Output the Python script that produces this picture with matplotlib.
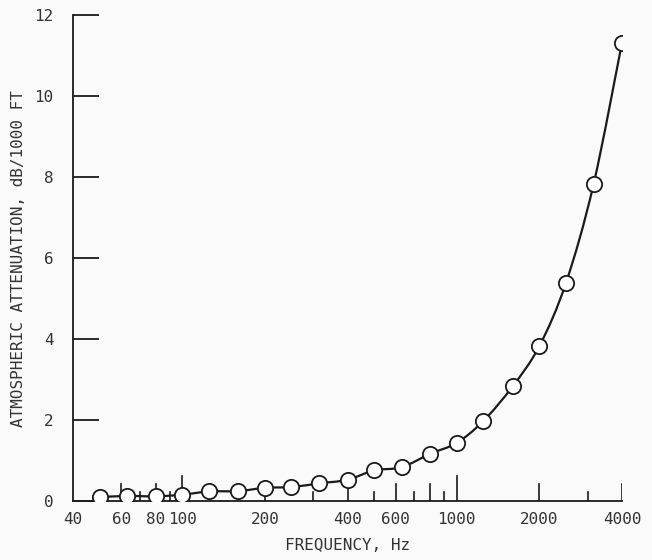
import matplotlib
matplotlib.use("Agg")
import matplotlib.pyplot as plt
from matplotlib.path import Path
from matplotlib.patches import PathPatch
import numpy as np

# data
freq = [50, 63, 80, 100, 125, 160, 200, 250, 315, 400, 500, 630, 800,
        1000, 1250, 1600, 2000, 2500, 3150, 4000]
atten = [0.10, 0.13, 0.12, 0.16, 0.24, 0.25, 0.33, 0.35, 0.44, 0.53, 0.76,
         0.84, 1.17, 1.44, 1.98, 2.84, 3.83, 5.39, 7.82, 11.32]
xtick_vals = [40, 60, 80, 100, 200, 400, 600, 1000, 2000, 4000]
xtick_labels = ["40", "60", "80", "100", "200", "400", "600", "1000", "2000", "4000"]
ytick_vals = [0, 2, 4, 6, 8, 10, 12]
long_ticks = [100, 1000]
mid_ticks = [60, 80, 200, 400, 600, 800, 2000, 4000]
short_ticks = [50, 70, 90, 300, 500, 700, 900, 3000]

plt.rcParams['font.family'] = ['DejaVu Sans Mono']
bg = '#fafafa'
ink = '#1a1a1a'
fig = plt.figure(figsize=(6.52, 5.6), dpi=100, facecolor=bg)
ax = fig.add_axes([0.112, 0.105, 0.842, 0.868], facecolor=bg)

ax.set_xscale('log')
ax.set_xlim(40, 4000)
ax.set_ylim(0, 12)

# smooth curve through the points (Catmull-Rom as cubic Bezier in log-x space)
lx = np.log10(freq)
ly = np.array(atten, dtype=float)
P = np.column_stack([lx, ly])
Pe = np.vstack([P[0], P, P[-1]])
verts = [P[0]]
codes = [Path.MOVETO]
for i in range(len(P) - 1):
    p0, p1, p2, p3 = Pe[i], Pe[i + 1], Pe[i + 2], Pe[i + 3]
    c1 = p1 + (p2 - p0) / 6.0
    c2 = p2 - (p3 - p1) / 6.0
    verts += [c1, c2, p2]
    codes += [Path.CURVE4] * 3
verts = np.array(verts)
verts[:, 0] = 10 ** verts[:, 0]
curve = PathPatch(Path(verts, codes), facecolor='none', edgecolor=ink,
                  lw=1.6, zorder=3)
ax.add_patch(curve)

ax.plot(freq, atten, linestyle='none', marker='o', markersize=11,
        markerfacecolor='white', markeredgecolor=ink,
        markeredgewidth=1.3, zorder=4)

for sp in ['top', 'right']:
    ax.spines[sp].set_visible(False)
for sp in ['left', 'bottom']:
    ax.spines[sp].set_linewidth(1.3)
    ax.spines[sp].set_color(ink)

ax.set_xticks(xtick_vals)
ax.set_xticklabels(xtick_labels)
ax.xaxis.set_minor_locator(matplotlib.ticker.NullLocator())
ax.tick_params(axis='x', which='major', length=0, pad=8, labelsize=11.5,
               labelcolor='#333333')

h = 486.0
for xv in long_ticks:
    ax.axvline(xv, ymin=0, ymax=25 / h, color=ink, lw=1.2, zorder=2)
for xv in mid_ticks:
    ax.axvline(xv, ymin=0, ymax=17 / h, color=ink, lw=1.2, zorder=2)
for xv in short_ticks:
    ax.axvline(xv, ymin=0, ymax=9 / h, color=ink, lw=1.2, zorder=2)

ax.set_yticks(ytick_vals)
ax.set_yticklabels([str(v) for v in ytick_vals])
ax.tick_params(axis='y', direction='in', length=19, width=1.3, pad=14,
               labelsize=11.5, labelcolor='#333333', color=ink)

ax.set_xlabel('FREQUENCY, Hz', fontsize=11.5, color='#333333', labelpad=8)
ax.set_ylabel('ATMOSPHERIC ATTENUATION, dB/1000 FT', fontsize=11.5,
              color='#333333', labelpad=6)

fig.savefig('out.png', dpi=100, facecolor=bg)
